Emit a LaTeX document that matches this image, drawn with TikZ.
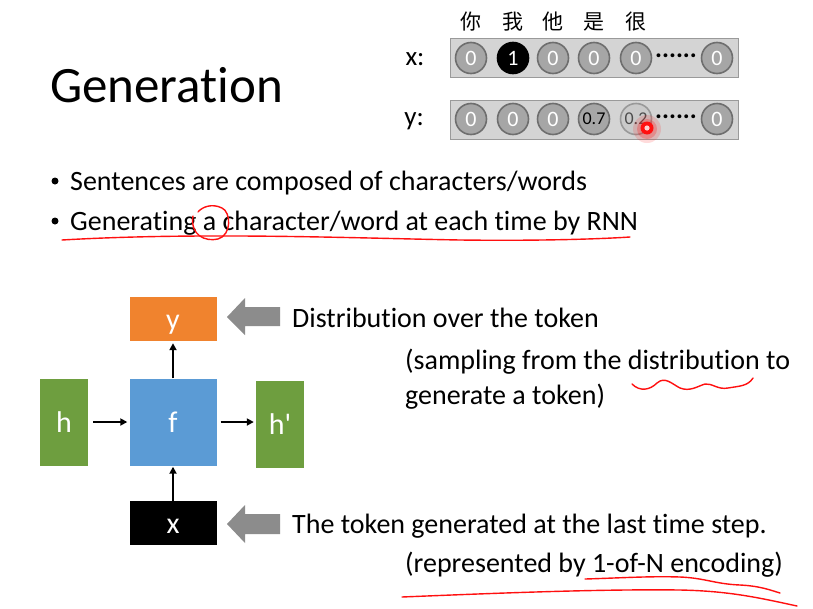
\documentclass[tikz,border=0pt]{standalone}
\usepackage{fontspec}
\setmainfont{Carlito}[Ligatures=CommonOff]
\newfontfamily\plainfont{Carlito}
\newfontfamily\cjk{Noto Sans CJK SC}
\usetikzlibrary{arrows.meta}
\definecolor{cellfill}{HTML}{A6A6A6}
\definecolor{cellline}{HTML}{6E6E6E}
\definecolor{barfill}{HTML}{D4D4D4}
\definecolor{barline}{HTML}{9A9A9A}
\definecolor{boxorange}{HTML}{F0832E}
\definecolor{boxblue}{HTML}{5B9BD5}
\definecolor{boxgreen}{HTML}{6E9E3F}
\definecolor{pointer}{HTML}{8C8C8C}
\definecolor{ink}{HTML}{FF1010}
\tikzset{
  txt/.style={anchor=base west, inner sep=0pt, font=\fontsize{28}{32}\selectfont},
  dot/.style={circle, fill=black, inner sep=0pt, minimum size=7pt},
  bar/.style={draw=barline, fill=barfill, line width=1pt},
  cell/.style={circle, draw=cellline, fill=cellfill, line width=1.6pt, minimum size=31pt,
    inner sep=0pt, text=white, font=\fontsize{22}{24}\selectfont},
  hot/.style={cell, fill=black, draw=black},
  prob/.style={cell, text=black, font=\fontsize{18}{20}\selectfont},
  blk/.style={inner sep=0pt, text=white, text height=20pt, text depth=0pt,
    font=\fontsize{30}{34}\selectfont},
  flow/.style={line width=2pt, -{Triangle[length=7pt,width=7pt]}},
  markup/.style={draw=ink, line width=1.4pt, line cap=round, line join=round},
  vlabel/.style={font=\fontsize{27}{30}\selectfont, inner sep=0pt},
  hanzi/.style={font=\cjk\fontsize{21}{24}\selectfont, inner sep=0pt},
  ellipsis/.style={inner sep=0pt, font=\fontsize{26}{28}\selectfont\bfseries},
}
\begin{document}
\begin{tikzpicture}[x=1pt, y=-1pt]
\useasboundingbox (0,0) rectangle (813,608);
\fill[white] (0,0) rectangle (813,608);

% title and bullets
\node[anchor=base west, inner sep=0pt, font=\fontsize{51}{60}\selectfont] (title) at (50,102) {Generation};
\node[dot] (b1dot) at (55,181) {};
\node[txt] (b1) at (70,190) {Sentences are composed of characters/words};
\node[dot] (b2dot) at (55,221) {};
\node[txt] (b2) at (70,230) {Generating a character/word at each time by RNN};

% one-hot input vector
\node[vlabel] (xl) at (415,59) {x:};
\draw[bar] (450,38) rectangle (738,77);
\node[cell] (x1) at (471,58) {0};
\node[hot]  (x2) at (513,58) {1};
\node[cell] (x3) at (553,58) {0};
\node[cell] (x4) at (594,58) {0};
\node[cell] (x5) at (636,58) {0};
\node[cell] (xn) at (717,58) {0};
\node[ellipsis] (xd) at (676,56) {......};

\node[hanzi] (c1) at (471,22) {你};
\node[hanzi] (c2) at (513,22) {我};
\node[hanzi] (c3) at (553,22) {他};
\node[hanzi] (c4) at (594,22) {是};
\node[hanzi] (c5) at (636,22) {很};

% output distribution
\node[vlabel] (yl) at (414,121) {y:};
\draw[bar] (450,100) rectangle (738,139);
\node[cell] (y1) at (471,119) {0};
\node[cell] (y2) at (513,119) {0};
\node[cell] (y3) at (553,119) {0};
\node[prob] (y4) at (594,119) {0.7};
\node[prob, fill=cellfill!60, draw=cellline!70, text=black!70] (y5) at (636,119) {0.2};
\node[cell] (yn) at (717,119) {0};
\node[ellipsis] (yd) at (676,117) {......};

% laser pointer spot
\fill[ink, opacity=0.15] (647,129) circle (14);
\fill[ink, opacity=0.25] (647,129) circle (10);
\fill[ink] (647,128) circle (6.5);
\fill[white!80!ink] (647,128) circle (2.6);

% RNN cell
\node[blk, fill=boxorange, minimum width=87pt, minimum height=44pt] (y) at (173,319) {y};
\node[blk, fill=boxblue, minimum width=87pt, minimum height=87pt] (f) at (173,422) {f};
\node[blk, fill=boxgreen, minimum width=48pt, minimum height=87pt] (h) at (64,422) {h};
\node[blk, fill=boxgreen, minimum width=48pt, minimum height=87pt] (hp) at (280,424) {{\plainfont h'}};
\node[blk, fill=black, minimum width=87pt, minimum height=44pt] (x) at (173,523) {x};

\draw[flow] ([xshift=5pt]h.east) -- ([xshift=-2pt]h.east -| f.west);
\draw[flow] (f.east) ++(4pt,0) -- ([xshift=-2pt]hp.west |- f.east);
\draw[flow] (f.north) -- ([yshift=-2pt]y.south);
\draw[flow] (x.north) -- ([yshift=-1pt]f.south);

% gray pointer arrows
\fill[pointer] (227,317) -- (245,298) -- (245,307) -- (280,307) -- (280,326) -- (245,326) -- (245,335) -- cycle;
\fill[pointer] (227,524) -- (245,505) -- (245,514) -- (280,514) -- (280,534) -- (245,534) -- (245,543) -- cycle;

% explanations
\node[txt] (t1) at (292,327) {Distribution over the token};
\node[txt] (t2) at (405,369) {(sampling from the distribution to};
\node[txt] (t3) at (405,404) {generate a token)};
\node[txt] (t4) at (292,533) {The token generated at the last time step.};
\node[txt] (t5) at (405,572) {(represented by 1-of-N encoding)};

% hand-drawn markup
\draw[markup] (62,240) .. controls (200,232) and (350,238) .. (460,240) .. controls (540,241) and (600,239) .. (630,237);
\draw[markup] (193,216) .. controls (190,235) and (205,242) .. (218,239) .. controls (232,235) and (231,212) .. (222,208) .. controls (212,203) and (202,207) .. (198,212);
\draw[markup] (632,384) .. controls (640,392) and (650,390) .. (657,383) .. controls (665,376) and (672,384) .. (680,388) .. controls (690,392) and (698,386) .. (705,384) .. controls (712,383) and (718,390) .. (728,388) .. controls (740,386) and (748,386) .. (753,378);
\draw[markup] (585,579) .. controls (620,578) and (650,576) .. (680,577) .. controls (705,578) and (715,584) .. (740,585) .. controls (760,586) and (770,590) .. (780,593);
\draw[markup] (402,597) .. controls (500,593) and (600,589) .. (680,590) .. controls (730,591) and (760,598) .. (797,606);
\end{tikzpicture}
\end{document}
